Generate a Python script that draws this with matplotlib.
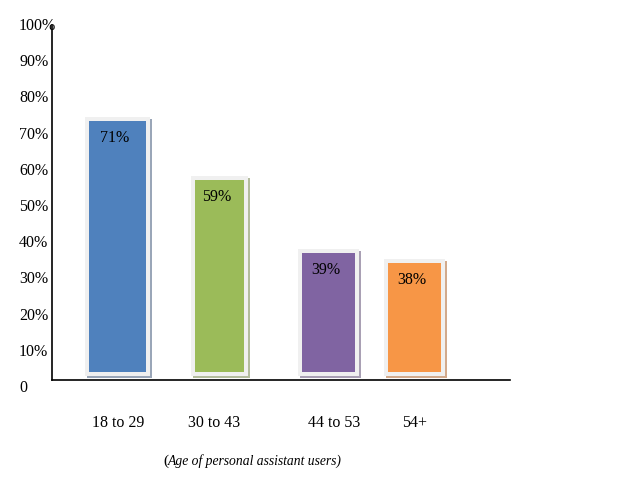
import matplotlib.pyplot as plt
import matplotlib.transforms as mtransforms
from matplotlib.patches import Rectangle

plt.rcParams['font.family'] = ['Liberation Serif', 'DejaVu Serif']

categories = ['18 to 29', '30 to 43', '44 to 53', '54+']
values = [71, 59, 39, 38]
# bar tops as drawn in the picture (in % of the y scale)
bar_tops = [73.5, 57.2, 37.0, 34.3]
colors = ['#4f81bd', '#9bbb59', '#8064a2', '#f79646']
shadows = ['#9aa6b8', '#b3bc9e', '#a9a0b4', '#d2aa8c']
yticks = [0, 10, 20, 30, 40, 50, 60, 70, 80, 90, 100]

# layout, in pixel units along x
centers = [117.5, 219.5, 328.5, 414.5]
widths = [57, 49, 53, 53]
label_x = [118, 214, 334, 415]

W, H = 635, 489
px = 100 / 362.0  # percent per pixel
base = 4.1
axis_y = 7 * px
m = 4

fig = plt.figure(figsize=(W / 100, H / 100), dpi=100)
ax = fig.add_axes([52 / W, (H - 388) / H, 458 / W, 362 / H])
ax.set_xlim(52, 510)
ax.set_ylim(0, 100)
ax.axis('off')

ax.plot([52, 52], [axis_y, 100], color='black', lw=1.2, clip_on=False)
ax.plot([52, 510], [axis_y, axis_y], color='black', lw=1.2, clip_on=False)

# bars with light frame and a soft shadow
for c, w, top, col, sh in zip(centers, widths, bar_tops, colors, shadows):
    x0 = c - w / 2 - m
    fw = w + 2 * m
    y0 = base - m * px
    fh = top - base + 2 * m * px
    ax.add_patch(Rectangle((x0 + 2, y0 - 2 * px), fw, fh, color=sh, lw=0, clip_on=False))
    ax.add_patch(Rectangle((x0, y0), fw, fh, color='#f0f0f0', lw=0, clip_on=False))
    ax.bar(c, top - base, width=w, bottom=base, color=col, lw=0)

for c, top, v in zip(centers, bar_tops, values):
    ax.text(c - 2.5, top - 16 * px, f'{v}%', ha='center', va='center', fontsize=11.5)

for lx, cat in zip(label_x, categories):
    ax.text(lx, -35 * px, cat, ha='center', va='center', fontsize=11.5, clip_on=False)

trans = mtransforms.blended_transform_factory(fig.transFigure, ax.transData)
for t in yticks:
    lab = '0' if t == 0 else f'{t}%'
    ax.text(19 / W, t, lab, ha='left', va='center', fontsize=11.5,
            transform=trans, clip_on=False)

fig.text(163 / W, 1 - 461 / H, '(', fontsize=11, va='center', ha='left')
fig.text(168 / W, 1 - 461 / H, 'Age of personal assistant users)', fontsize=9.8,
         style='italic', va='center', ha='left')

fig.savefig('out.png', dpi=100)
